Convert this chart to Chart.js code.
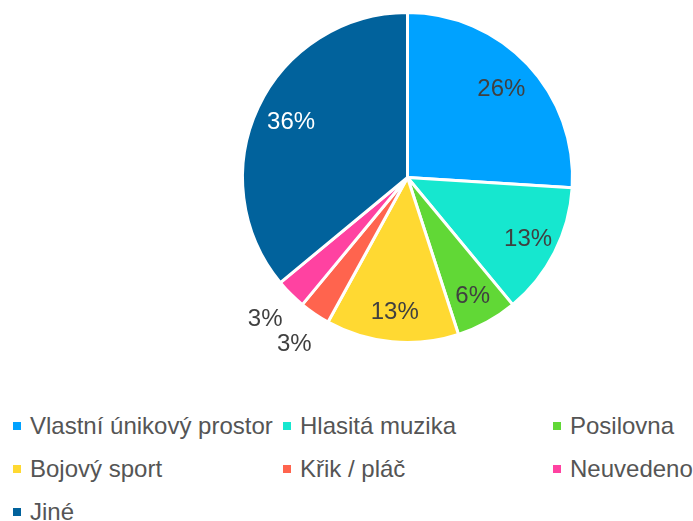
<!DOCTYPE html>
<html>
<head>
<meta charset="utf-8">
<script src="https://cdn.jsdelivr.net/npm/chart.js@4"></script>
<style>
    body { margin: 0; background: #fff; font-family: "Liberation Sans", Arial, sans-serif; }
    #wrap { position: relative; width: 693px; height: 521px; overflow: hidden; }
    #chartBox { position: absolute; left: 0; top: 0; width: 693px; height: 360px; }
    #legenda { position: absolute; left: 13px; top: 404px; display: grid; grid-template-columns: 270px 270px 150px; grid-auto-rows: 43px; }
    #legenda div { display: flex; align-items: center; font-size: 24px; color: #555; white-space: nowrap; height: 43px; }
    #legenda span { display: inline-block; width: 8px; height: 8px; margin-right: 9px; }
</style>
</head>
<body>
<div id="wrap">
    <div id="chartBox"><canvas id="pieChart"></canvas></div>
    <div id="legenda"></div>
</div>
<script>
// data
const kategorie = ['Vlastní únikový prostor', 'Hlasitá muzika', 'Posilovna', 'Bojový sport', 'Křik / pláč', 'Neuvedeno', 'Jiné'];
const hodnoty = [26, 13, 6, 13, 3, 3, 36];
const barvy = ['#00A2FF', '#16E7CF', '#61D836', '#FFD932', '#FF644E', '#FF42A1', '#01629C'];
const barvyTextu = ['#404040', '#404040', '#404040', '#404040', '#404040', '#404040', '#ffffff'];

// popisky procent
const popiskyPlugin = {
    id: 'popisky',
    afterDatasetsDraw(chart) {
        const ctx = chart.ctx;
        const meta = chart.getDatasetMeta(0);
        const total = hodnoty.reduce((a, b) => a + b, 0);
        ctx.save();
        ctx.font = '24px "Liberation Sans", Arial, sans-serif';
        ctx.textAlign = 'center';
        ctx.textBaseline = 'middle';
        meta.data.forEach((arc, i) => {
            const p = arc.getProps(['x', 'y', 'startAngle', 'endAngle', 'outerRadius'], true);
            const mid = (p.startAngle + p.endAngle) / 2;
            const pct = hodnoty[i] / total * 100;
            let f = pct < 5 ? 1.22 : 0.78;
            if (pct > 5 && pct < 15) f = 0.82;
            const r = p.outerRadius * f;
            ctx.fillStyle = pct < 5 ? '#404040' : barvyTextu[i];
            ctx.fillText(Math.round(pct) + '%', p.x + Math.cos(mid) * r, p.y + Math.sin(mid) * r);
        });
        ctx.restore();
    }
};

const pieCtx = document.getElementById('pieChart').getContext('2d');
new Chart(pieCtx, {
    type: 'pie',
    data: {
        labels: kategorie,
        datasets: [{
            data: hodnoty,
            backgroundColor: barvy,
            borderColor: '#ffffff',
            borderWidth: 3,
            hoverOffset: 0
        }]
    },
    options: {
        responsive: true,
        maintainAspectRatio: false,
        animation: false,
        layout: { padding: { left: 241, right: 119, top: 11, bottom: 16 } },
        plugins: {
            legend: { display: false },
            tooltip: { enabled: false }
        }
    },
    plugins: [popiskyPlugin]
});

// legenda
const legenda = document.getElementById('legenda');
kategorie.forEach((k, i) => {
    const d = document.createElement('div');
    d.innerHTML = `<span style="background:${barvy[i]}"></span>${k}`;
    legenda.appendChild(d);
});
</script>
</body>
</html>
